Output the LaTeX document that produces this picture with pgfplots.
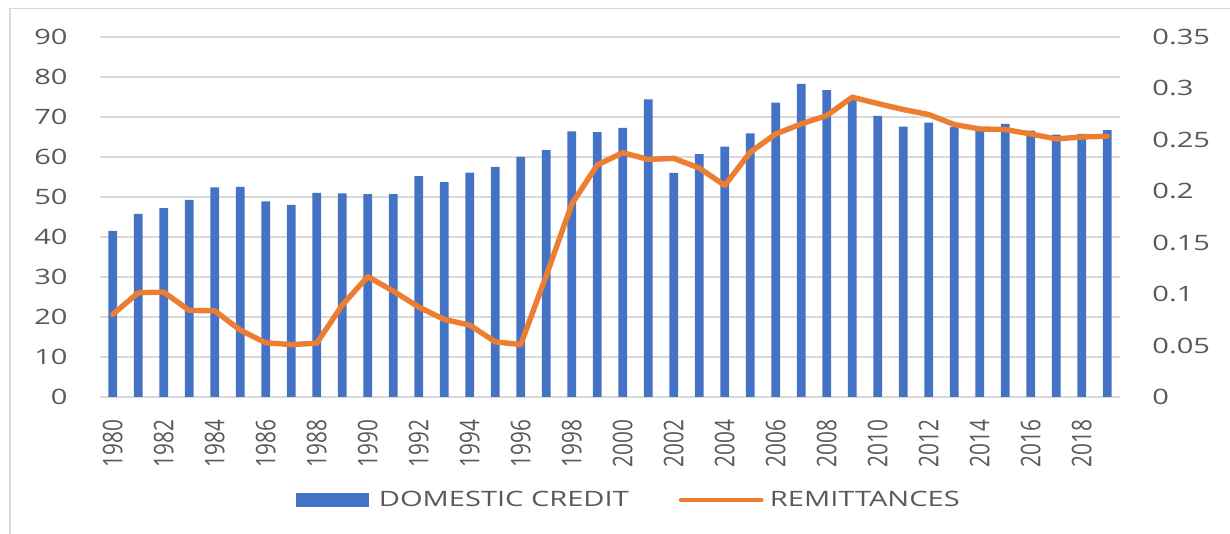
\documentclass[border=0pt]{standalone}
\usepackage{pgfplots}
\pgfplotsset{compat=1.18}
\usepackage{fontspec}
\setmainfont{Open Sans}[FakeStretch=1.37]
\newfontfamily\yrfont{Open Sans}
\definecolor{barblue}{HTML}{4472C4}
\definecolor{lineorange}{HTML}{ED7D31}
\definecolor{txtgray}{HTML}{595959}
\definecolor{gridgray}{HTML}{D9D9D9}
\newcommand{\yr}[1]{\scalebox{1}[1.3]{\yrfont #1}}
\begin{document}
\begin{tikzpicture}
\useasboundingbox (0,0) rectangle (615pt,267pt);
\draw[gridgray, line width=0.8pt] (5pt,0) -- (5pt,262.75pt) -- (615pt,262.75pt);
\begin{axis}[
  at={(50pt,68.5pt)}, anchor=south west,
  scale only axis, width=510pt, height=180pt,
  xmin=-0.5, xmax=39.5, ymin=0, ymax=90,
  ybar, bar width=4.35pt,
  axis line style={draw=none}, tick style={draw=none},
  ymajorgrids, grid style={gridgray, line width=0.7pt},
  ytick={0,10,...,90},
  yticklabels={0,10,20,30,40,50,60,70,80,90},
  yticklabel style={font=\fontsize{10.6}{12}\selectfont, text=txtgray, anchor=east, inner sep=0pt, xshift=-16pt},
  xtick={0,2,...,38},
  xticklabels={\yr{1980},\yr{1982},\yr{1984},\yr{1986},\yr{1988},\yr{1990},\yr{1992},\yr{1994},\yr{1996},\yr{1998},\yr{2000},\yr{2002},\yr{2004},\yr{2006},\yr{2008},\yr{2010},\yr{2012},\yr{2014},\yr{2016},\yr{2018}},
  xticklabel style={font=\fontsize{10.4}{12}\selectfont, text=txtgray, rotate=90, anchor=east, inner sep=0pt, xshift=-7pt},
]
\addplot[fill=barblue, draw=none] coordinates {
(0,41.5) (1,45.8) (2,47.2) (3,49.3) (4,52.4) (5,52.5) (6,48.9) (7,48.0) (8,51.0) (9,50.9)
(10,50.7) (11,50.7) (12,55.2) (13,53.7) (14,56.1) (15,57.5) (16,60.0) (17,61.7) (18,66.4) (19,66.2)
(20,67.3) (21,74.4) (22,56.0) (23,60.7) (24,62.6) (25,65.9) (26,73.6) (27,78.3) (28,76.7) (29,74.3)
(30,70.3) (31,67.6) (32,68.6) (33,67.5) (34,67.0) (35,68.3) (36,66.6) (37,65.6) (38,65.8) (39,66.7)
};
\end{axis}
\begin{axis}[
  at={(50pt,68.5pt)}, anchor=south west,
  scale only axis, width=510pt, height=180pt,
  xmin=-0.5, xmax=39.5, ymin=0, ymax=0.35,
  axis x line=none,
  axis y line*=right,
  axis line style={draw=none}, tick style={draw=none},
  ytick={0,0.05,0.1,0.15,0.2,0.25,0.3,0.35},
  yticklabels={0,0.05,0.1,0.15,0.2,0.25,0.3,0.35},
  yticklabel style={font=\fontsize{10.6}{12}\selectfont, text=txtgray, anchor=west, inner sep=0pt, xshift=16pt},
  legend columns=2,
  legend style={at={(0.5176,-0.286)}, anchor=center, draw=none, fill=none,
    font=\fontsize{10.6}{12}\selectfont, text=txtgray, inner sep=0pt,
    /tikz/every even column/.append style={column sep=25pt},
    nodes={inner sep=0pt, anchor=west}},
]
\addlegendimage{legend image code/.code={\fill[barblue] (0pt,-3.4pt) rectangle (36pt,3.4pt); \path (41pt,0);}}
\addlegendentry{DOMESTIC CREDIT}
\addplot[lineorange, line width=2.7pt, line join=round, line cap=round,
  legend image code/.code={\draw[lineorange, line width=2.4pt, line cap=round] (0pt,0pt) -- (40pt,0pt); \path (43pt,0);}]
coordinates {
(0,0.0803) (1,0.1014) (2,0.102) (3,0.0842) (4,0.0838) (5,0.065) (6,0.0527) (7,0.051) (8,0.0523) (9,0.0894)
(10,0.117) (11,0.103) (12,0.0874) (13,0.0754) (14,0.0699) (15,0.0536) (16,0.051) (17,0.118) (18,0.1875) (19,0.2256)
(20,0.2375) (21,0.231) (22,0.232) (23,0.2226) (24,0.2057) (25,0.238) (26,0.2557) (27,0.2655) (28,0.2736) (29,0.2915)
(30,0.2853) (31,0.2795) (32,0.2746) (33,0.2649) (34,0.2606) (35,0.260) (36,0.2557) (37,0.2509) (38,0.2528) (39,0.2535)
};
\addlegendentry{REMITTANCES}
\end{axis}
\end{tikzpicture}
\end{document}
